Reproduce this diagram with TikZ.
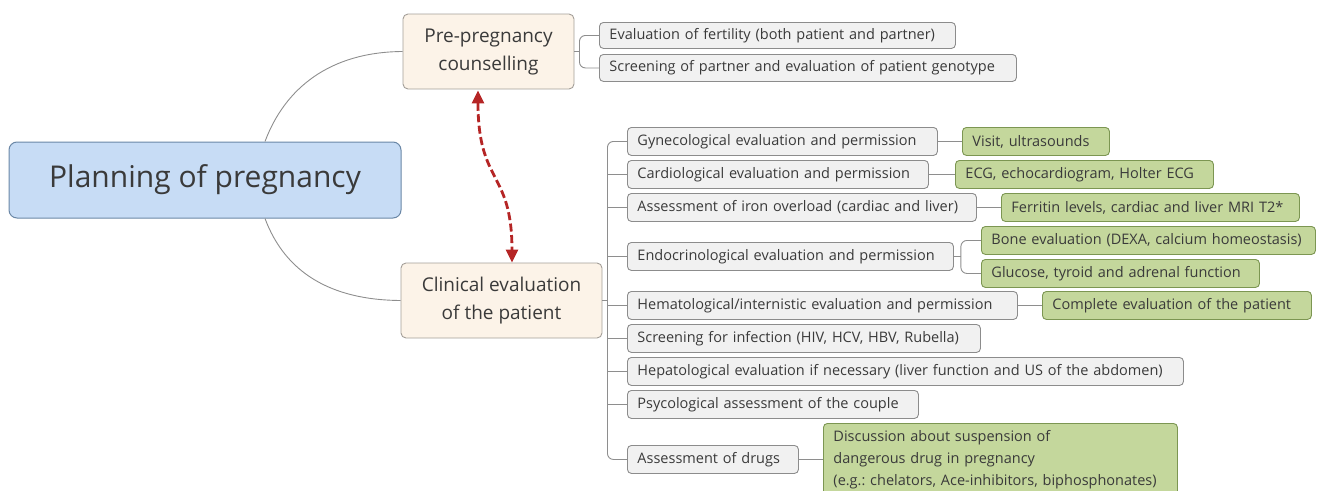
\documentclass[tikz,border=0pt]{standalone}
\usepackage{fontspec}
\setmainfont{Open Sans}
\usetikzlibrary{arrows.meta,calc}
\frenchspacing
\definecolor{txt}{HTML}{3A3A3A}
\definecolor{mainfill}{HTML}{C7DCF5}
\definecolor{maindraw}{HTML}{6A87A6}
\definecolor{midfill}{HTML}{FCF3E8}
\definecolor{middraw}{HTML}{A39E98}
\definecolor{greyfill}{HTML}{F1F1F1}
\definecolor{greydraw}{HTML}{8C8C8C}
\definecolor{greenfill}{HTML}{C4D79C}
\definecolor{greendraw}{HTML}{7C9652}
\definecolor{conncol}{HTML}{8E8E8E}
\definecolor{arrred}{HTML}{B52525}
\tikzset{
  mainbox/.style={draw=maindraw, fill=mainfill, line width=1pt, rounded corners=8pt,
    minimum width=392pt, minimum height=76pt, text=txt, font=\fontsize{30}{36}\selectfont},
  midbox/.style={draw=middraw, fill=midfill, line width=0.9pt, rounded corners=5pt,
    minimum height=75pt, text=txt, align=center, font=\fontsize{19}{28}\selectfont},
  greybox/.style={draw=greydraw, fill=greyfill, line width=0.9pt, rounded corners=4pt,
    anchor=north west, minimum height=28pt, inner xsep=10pt, inner ysep=0pt, align=left,
    text=txt, font=\fontsize{14.5}{17}\selectfont, text width=#1},
  greenbox/.style={greybox=#1, draw=greendraw, fill=greenfill},
  conn/.style={draw=conncol, line width=0.9pt},
  bracket/.style={conn, rounded corners=6pt},
}
\begin{document}
\begin{tikzpicture}[x=1pt,y=-1pt]
\useasboundingbox (0,0) rectangle (1317,490);
% main nodes
\node[mainbox] (main) at (205,180) {Planning of pregnancy};
\node[midbox, minimum width=171pt] (pre) at (488.5,51.5) {Pre-pregnancy\\counselling};
\node[midbox, minimum width=201pt] (clin) at (501.5,300.5) {Clinical evaluation\\of the patient};
% pre children
\node[greybox=336pt, minimum height=26pt] (p1) at (599,22) {Evaluation of fertility (both patient and partner)};
\node[greybox=397pt, minimum height=27pt] (p2) at (599,54) {Screening of partner and evaluation of patient genotype};
% clinical children
\node[greybox=290pt] (g1) at (627,127) {Gynecological evaluation and permission};
\node[greybox=281pt] (g2) at (627,160) {Cardiological evaluation and permission};
\node[greybox=329pt] (g3) at (627,193) {Assessment of iron overload (cardiac and liver)};
\node[greybox=306pt] (g4) at (627,242) {Endocrinological evaluation and permission};
\node[greybox=370pt] (g5) at (627,291) {Hematological/internistic evaluation and permission};
\node[greybox=333pt] (g6) at (627,324) {Screening for infection (HIV, HCV, HBV, Rubella)};
\node[greybox=536pt] (g7) at (627,357) {Hepatological evaluation if necessary (liver function and US of the abdomen)};
\node[greybox=271pt] (g8) at (627,390) {Psycological assessment of the couple};
\node[greybox=151pt] (g9) at (627,445) {Assessment of drugs};
% green leaves
\node[greenbox=127pt] (v1) at (962,127) {Visit, ultrasounds};
\node[greenbox=238pt] (v2) at (955,160) {ECG, echocardiogram, Holter ECG};
\node[greenbox=278pt] (v3) at (1001,193) {Ferritin levels, cardiac and liver MRI T2*};
\node[greenbox=314pt] (v4a) at (981,226) {Bone evaluation (DEXA, calcium homeostasis)};
\node[greenbox=258pt] (v4b) at (981,259) {Glucose, tyroid and adrenal function};
\node[greenbox=249pt] (v5) at (1042,291) {Complete evaluation of the patient};
\node[greenbox=334pt, minimum height=72pt, font=\fontsize{14.5}{22}\selectfont] (v9) at (823,423)
  {Discussion about suspension of\\dangerous drug in pregnancy\\(e.g.: chelators, Ace-inhibitors, biphosphonates)};
% curves from main
\coordinate (mt) at ([xshift=60pt]main.north);
\coordinate (mb) at ([xshift=60pt]main.south);
\draw[conn] (mt) .. controls (285,88) and (330,52) .. (pre.west);
\draw[conn] (mb) .. controls (285,272) and (330,300) .. (clin.west);
% pre bracket
\coordinate (pj) at ($(pre.east)+(5,0)$);
\draw[conn] (pre.east) -- (pj);
\draw[bracket] (p1.west) -| (pj) |- (p2.west);
% clinical bracket
\coordinate (cj) at ($(clin.east)+(5,0)$);
\draw[conn] (clin.east) -- (cj);
\draw[bracket] (g1.west) -| (cj) |- (g9.west);
\foreach \g in {g2,g3,g4,g5,g6,g7,g8}{
  \draw[conn] (cj |- \g.west) -- (\g.west);
}
% leaves
\draw[conn] (g1.east) -- (v1.west);
\draw[conn] (g2.east) -- (v2.west);
\draw[conn] (g3.east) -- (v3.west);
\draw[conn] (g5.east) -- (v5.west);
\draw[conn] (g9.east) -- (v9.west |- g9.east);
\coordinate (ej) at ($(g4.east)+(7,0)$);
\draw[conn] (g4.east) -- (ej);
\draw[bracket] (v4a.west) -| (ej) |- (v4b.west);
% dashed double arrow
\coordinate (as) at ([xshift=-10.5pt,yshift=-1pt]pre.south);
\coordinate (ae) at ([xshift=10.5pt]clin.north);
\draw[arrred, line width=2.8pt, dash pattern=on 8pt off 3.5pt,
  {Triangle[length=13pt,width=12pt]}-{Triangle[length=13pt,width=12pt]}]
  (as) .. controls (478,185) and (512,170) .. (ae);
\end{tikzpicture}
\end{document}
